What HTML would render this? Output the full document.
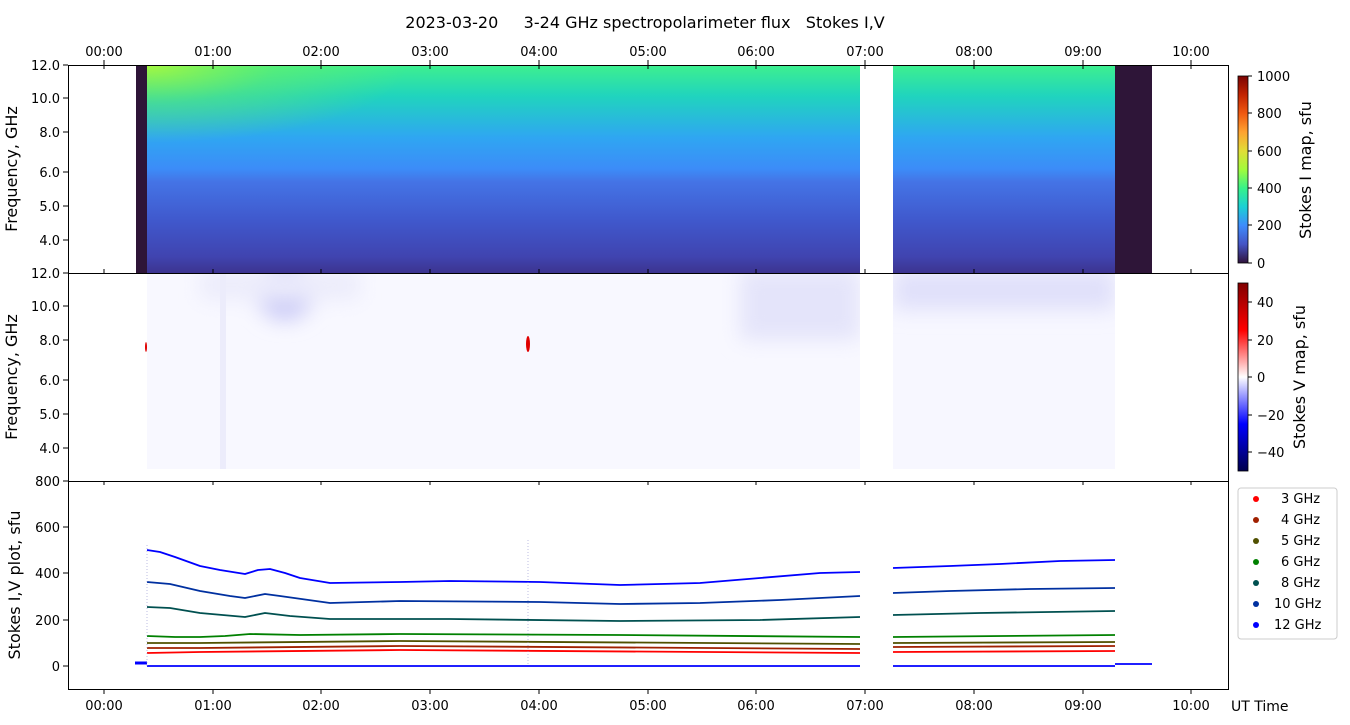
<!DOCTYPE html>
<html><head><meta charset="utf-8"><style>
html,body{margin:0;padding:0;background:#fff;}
svg{display:block;font-family:"DejaVu Sans","Liberation Sans",sans-serif;}
</style></head><body>
<svg width="1350" height="725" viewBox="0 0 1350 725" xmlns="http://www.w3.org/2000/svg">
<defs>
<linearGradient id="gI" x1="0" y1="65" x2="0" y2="273" gradientUnits="userSpaceOnUse">
<stop offset="0" stop-color="#3ef08e"/>
<stop offset="0.15" stop-color="#20d4be"/>
<stop offset="0.35" stop-color="#2fa6f2"/>
<stop offset="0.5" stop-color="#3c8cf8"/>
<stop offset="0.56" stop-color="#4474e6"/>
<stop offset="0.75" stop-color="#4058cc"/>
<stop offset="0.92" stop-color="#4044b0"/>
<stop offset="1" stop-color="#3c3490"/>
</linearGradient>
<radialGradient id="gY" cx="147" cy="65" r="260" gradientUnits="userSpaceOnUse" gradientTransform="translate(147 65) scale(1 0.3) translate(-147 -65)">
<stop offset="0" stop-color="#b0f838" stop-opacity="0.9"/>
<stop offset="0.5" stop-color="#80f050" stop-opacity="0.35"/>
<stop offset="1" stop-color="#80f050" stop-opacity="0"/>
</radialGradient>
<filter id="bl" x="-50%" y="-50%" width="200%" height="200%"><feGaussianBlur stdDeviation="10"/></filter>
<clipPath id="c2"><rect x="147" y="274" width="713" height="195"/><rect x="893" y="274" width="222" height="195"/></clipPath>
<linearGradient id="cbI" x1="0" y1="263" x2="0" y2="76" gradientUnits="userSpaceOnUse">
<stop offset="0" stop-color="#30123b"/>
<stop offset="0.1" stop-color="#4454c4"/>
<stop offset="0.2" stop-color="#3e8bfc"/>
<stop offset="0.3" stop-color="#1bd0d5"/>
<stop offset="0.4" stop-color="#36f28a"/>
<stop offset="0.5" stop-color="#a2fc3c"/>
<stop offset="0.6" stop-color="#e1dd37"/>
<stop offset="0.7" stop-color="#fea331"/>
<stop offset="0.8" stop-color="#ef5911"/>
<stop offset="0.9" stop-color="#c22402"/>
<stop offset="1" stop-color="#7a0403"/>
</linearGradient>
<linearGradient id="cbV" x1="0" y1="471" x2="0" y2="283" gradientUnits="userSpaceOnUse">
<stop offset="0" stop-color="#00004c"/>
<stop offset="0.25" stop-color="#0000ff"/>
<stop offset="0.5" stop-color="#ffffff"/>
<stop offset="0.75" stop-color="#ff0000"/>
<stop offset="1" stop-color="#800000"/>
</linearGradient>
</defs>

<text x="645" y="28" font-size="16" text-anchor="middle" xml:space="preserve">2023-03-20     3-24 GHz spectropolarimeter flux   Stokes I,V</text>

<!-- Panel 1 -->
<rect x="136" y="65" width="11" height="208" fill="#2e1538"/>
<rect x="1115" y="65" width="37" height="208" fill="#2e1538"/>
<rect x="147" y="65" width="713" height="208" fill="url(#gI)"/>
<rect x="893" y="65" width="222" height="208" fill="url(#gI)"/>
<rect x="147" y="65" width="713" height="208" fill="url(#gY)"/>

<!-- Panel 2 -->
<g clip-path="url(#c2)">
<rect x="147" y="274" width="713" height="195" fill="#f8f8ff"/>
<rect x="893" y="274" width="222" height="195" fill="#f7f7ff"/>
<g filter="url(#bl)">
<ellipse cx="285" cy="290" rx="30" ry="30" fill="#c8c8f6"/>
<rect x="893" y="270" width="222" height="40" fill="#e0e0fa"/>
<rect x="740" y="270" width="120" height="70" fill="#e4e4fa"/>
<rect x="200" y="270" width="160" height="30" fill="#ececfb"/>
</g>
<rect x="220" y="274" width="6" height="195" fill="#ececfb"/>
</g>
<ellipse cx="528" cy="344" rx="2" ry="8" fill="#e00000"/>
<ellipse cx="146" cy="347" rx="1" ry="5" fill="#e00000"/>

<!-- Panel 3 lines -->
<g fill="none" stroke-width="1.8" stroke-linejoin="round">
<polyline stroke="#0000ff" points="147,550 160,552 175,557 200,566 220,570 245,574 258,570 270,569 285,573 300,578 330,583 400,582 450,581 540,582 620,585 700,583 760,578 820,573 860,572"/>
<polyline stroke="#0000ff" points="893,568 950,566 1000,564 1060,561 1115,560"/>
<polyline stroke="#0030a0" points="147,582 170,584 200,591 230,596 245,598 265,594 280,596 330,603 400,601 540,602 620,604 700,603 780,600 860,596"/>
<polyline stroke="#0030a0" points="893,593 950,591 1030,589 1115,588"/>
<polyline stroke="#005050" points="147,607 170,608 200,613 245,617 265,613 290,616 330,619 450,619 620,621 760,620 860,617"/>
<polyline stroke="#005050" points="893,615 980,613 1115,611"/>
<polyline stroke="#008000" points="147,636 175,637 200,637 225,636 250,634 300,635 400,634 620,635 860,637"/>
<polyline stroke="#008000" points="893,637 1115,635"/>
<polyline stroke="#505000" points="147,643 200,643 400,641 860,644"/>
<polyline stroke="#505000" points="893,643 1115,642"/>
<polyline stroke="#a02000" points="147,648 200,648 400,646 860,649"/>
<polyline stroke="#a02000" points="893,647 1115,646"/>
<polyline stroke="#ff0000" points="147,653 200,652 400,650 860,653"/>
<polyline stroke="#ff0000" points="893,652 1115,651"/>
<polyline stroke="#0000ff" points="147,666 860,666"/>
<polyline stroke="#0000ff" points="893,666 1115,666"/>
<polyline stroke="#0000ff" stroke-width="3" points="135,663 147,663"/>
<polyline stroke="#0000ff" points="1115,664 1152,664"/>
</g>
<path d="M147,545V666M528,540V666" stroke="#9090d0" stroke-width="0.6" stroke-dasharray="1,2"/>

<!-- Frames -->
<g fill="none" stroke="#000" stroke-width="1">
<rect x="68.5" y="65.5" width="1160" height="208"/>
<rect x="68.5" y="273.5" width="1160" height="208"/>
<rect x="68.5" y="481.5" width="1160" height="208"/>
</g>

<!-- X ticks -->
<g stroke="#000" stroke-width="1">
<path d="M104,65v-5M213,65v-5M321,65v-5M430,65v-5M539,65v-5M648,65v-5M756,65v-5M865,65v-5M974,65v-5M1083,65v-5M1191,65v-5"/>
<path d="M104,65v4M213,65v4M321,65v4M430,65v4M539,65v4M648,65v4M756,65v4M865,65v4M974,65v4M1083,65v4M1191,65v4"/>
<path d="M104,273v-4M213,273v-4M321,273v-4M430,273v-4M539,273v-4M648,273v-4M756,273v-4M865,273v-4M974,273v-4M1083,273v-4M1191,273v-4"/>
<path d="M104,689v5M213,689v5M321,689v5M430,689v5M539,689v5M648,689v5M756,689v5M865,689v5M974,689v5M1083,689v5M1191,689v5"/>
<path d="M104,481v4M213,481v4M321,481v4M430,481v4M539,481v4M648,481v4M756,481v4M865,481v4M974,481v4M1083,481v4M1191,481v4"/>
</g>
<g font-size="13" text-anchor="middle">
<text x="104" y="56">00:00</text><text x="213" y="56">01:00</text><text x="321" y="56">02:00</text><text x="430" y="56">03:00</text><text x="539" y="56">04:00</text><text x="648" y="56">05:00</text><text x="756" y="56">06:00</text><text x="865" y="56">07:00</text><text x="974" y="56">08:00</text><text x="1083" y="56">09:00</text><text x="1191" y="56">10:00</text>
<text x="104" y="710">00:00</text><text x="213" y="710">01:00</text><text x="321" y="710">02:00</text><text x="430" y="710">03:00</text><text x="539" y="710">04:00</text><text x="648" y="710">05:00</text><text x="756" y="710">06:00</text><text x="865" y="710">07:00</text><text x="974" y="710">08:00</text><text x="1083" y="710">09:00</text><text x="1191" y="710">10:00</text>
</g>
<text x="1231" y="711" font-size="14">UT Time</text>

<!-- Y ticks -->
<g stroke="#000" stroke-width="1">
<path d="M68,65h-5M68,98h-5M68,132h-5M68,172h-5M68,206h-5M68,240h-5"/>
<path d="M68,273h-5M68,306h-5M68,340h-5M68,380h-5M68,414h-5M68,448h-5"/>
<path d="M68,481h-5M68,527h-5M68,573h-5M68,620h-5M68,666h-5"/>
</g>
<g font-size="13" text-anchor="end">
<text x="60" y="70">12.0</text><text x="60" y="103">10.0</text><text x="60" y="137">8.0</text><text x="60" y="177">6.0</text><text x="60" y="211">5.0</text><text x="60" y="245">4.0</text>
<text x="60" y="278">12.0</text><text x="60" y="311">10.0</text><text x="60" y="345">8.0</text><text x="60" y="385">6.0</text><text x="60" y="419">5.0</text><text x="60" y="453">4.0</text>
<text x="60" y="486">800</text><text x="60" y="532">600</text><text x="60" y="578">400</text><text x="60" y="625">200</text><text x="60" y="671">0</text>
</g>
<g font-size="16" text-anchor="middle">
<text transform="translate(17,169) rotate(-90)">Frequency, GHz</text>
<text transform="translate(17,377) rotate(-90)">Frequency, GHz</text>
<text transform="translate(20,585) rotate(-90)">Stokes I,V plot, sfu</text>
</g>

<!-- Colorbars -->
<rect x="1238" y="76" width="10" height="187" fill="url(#cbI)" stroke="#000" stroke-width="0.8"/>
<rect x="1238" y="283" width="10" height="188" fill="url(#cbV)" stroke="#000" stroke-width="0.8"/>
<g stroke="#000"><path d="M1248,76h4M1248,113h4M1248,151h4M1248,188h4M1248,225h4M1248,263h4M1248,302h4M1248,340h4M1248,377h4M1248,415h4M1248,452h4"/></g>
<g font-size="13">
<text x="1257" y="81">1000</text><text x="1257" y="118">800</text><text x="1257" y="156">600</text><text x="1257" y="193">400</text><text x="1257" y="230">200</text><text x="1257" y="268">0</text>
<text x="1257" y="307">40</text><text x="1257" y="345">20</text><text x="1257" y="382">0</text><text x="1257" y="420">−20</text><text x="1257" y="457">−40</text>
</g>
<g font-size="16" text-anchor="middle">
<text transform="translate(1311,170) rotate(-90)">Stokes I map, sfu</text>
<text transform="translate(1305,377) rotate(-90)">Stokes V map, sfu</text>
</g>

<!-- Legend -->
<rect x="1238" y="488" width="99" height="151" rx="3" fill="#fff" stroke="#ccc"/>
<g font-size="13">
<circle cx="1256" cy="499" r="3" fill="#ff0000"/><text x="1281" y="503">3 GHz</text>
<circle cx="1256" cy="520" r="3" fill="#a02000"/><text x="1281" y="524">4 GHz</text>
<circle cx="1256" cy="541" r="3" fill="#505000"/><text x="1281" y="545">5 GHz</text>
<circle cx="1256" cy="562" r="3" fill="#008000"/><text x="1281" y="566">6 GHz</text>
<circle cx="1256" cy="583" r="3" fill="#005050"/><text x="1281" y="587">8 GHz</text>
<circle cx="1256" cy="604" r="3" fill="#0030a0"/><text x="1274" y="608">10 GHz</text>
<circle cx="1256" cy="625" r="3" fill="#0000ff"/><text x="1274" y="629">12 GHz</text>
</g>
</svg>
</body></html>
